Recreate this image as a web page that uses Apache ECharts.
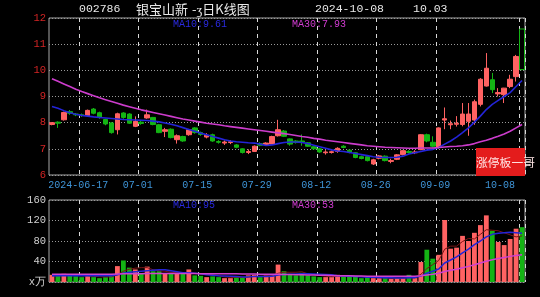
<!DOCTYPE html>
<html><head><meta charset="utf-8">
<script src="https://cdn.jsdelivr.net/npm/echarts@6/dist/echarts.min.js"></script>
<style>html,body{margin:0;padding:0;background:#000;}#c{width:540px;height:297px;}</style>
</head><body><div id="c"></div>
<script>
const dates = ['2024-06-07','2024-06-11','2024-06-12','2024-06-13','2024-06-14','2024-06-17','2024-06-18','2024-06-19','2024-06-20','2024-06-21',
'2024-06-24','2024-06-25','2024-06-26','2024-06-27','2024-06-28','2024-07-01','2024-07-02','2024-07-03','2024-07-04','2024-07-05',
'2024-07-08','2024-07-09','2024-07-10','2024-07-11','2024-07-12','2024-07-15','2024-07-16','2024-07-17','2024-07-18','2024-07-19',
'2024-07-22','2024-07-23','2024-07-24','2024-07-25','2024-07-26','2024-07-29','2024-07-30','2024-07-31','2024-08-01','2024-08-02',
'2024-08-05','2024-08-06','2024-08-07','2024-08-08','2024-08-09','2024-08-12','2024-08-13','2024-08-14','2024-08-15','2024-08-16',
'2024-08-19','2024-08-20','2024-08-21','2024-08-22','2024-08-23','2024-08-26','2024-08-27','2024-08-28','2024-08-29','2024-08-30',
'2024-09-02','2024-09-03','2024-09-04','2024-09-05','2024-09-06','2024-09-09','2024-09-10','2024-09-11','2024-09-12','2024-09-13',
'2024-09-18','2024-09-19','2024-09-20','2024-09-23','2024-09-24','2024-09-25','2024-09-26','2024-09-27','2024-09-30','2024-10-08'];

const openP = [7.93,8.02,8.11,8.42,8.33,8.30,8.27,8.52,8.38,8.12,
7.99,7.73,8.37,8.33,7.86,8.02,8.18,8.20,7.92,7.67,
7.75,7.35,7.47,7.54,7.80,7.62,7.45,7.54,7.28,7.22,
7.24,7.15,7.00,6.86,6.90,7.20,7.16,7.18,7.50,7.68,
7.38,7.30,7.30,7.23,7.08,7.00,6.85,6.86,6.90,7.10,
6.95,6.85,6.70,6.70,6.42,6.64,6.72,6.52,6.60,6.78,
6.90,6.85,6.97,7.54,7.25,7.05,8.10,7.92,7.94,7.93,
8.05,8.10,8.70,9.40,9.64,9.10,9.07,9.38,9.76,11.58];
const closeP = [8.00,7.98,8.39,8.36,8.30,8.28,8.47,8.36,8.20,7.95,
7.62,8.34,8.20,7.98,8.05,7.97,8.30,7.93,7.62,7.73,
7.43,7.50,7.30,7.73,7.62,7.55,7.52,7.30,7.25,7.26,
7.27,7.06,6.86,6.90,7.10,7.14,7.22,7.47,7.73,7.48,
7.18,7.24,7.25,7.10,7.00,6.88,6.88,6.89,7.02,7.05,
6.86,6.67,6.63,6.55,6.58,6.73,6.55,6.55,6.77,6.93,
6.86,6.88,7.54,7.30,7.10,7.80,8.15,7.96,7.98,8.33,
8.33,8.80,9.66,10.08,9.26,9.15,9.32,9.66,10.53,10.03];
const lowP = [7.90,7.80,8.08,8.30,8.25,8.22,8.25,8.32,8.15,7.90,
7.58,7.55,8.15,7.95,7.83,7.92,8.15,7.90,7.60,7.45,
7.40,7.20,7.27,7.50,7.58,7.50,7.40,7.27,7.20,7.15,
7.18,7.02,6.82,6.80,6.88,7.10,7.13,7.15,7.47,7.45,
7.12,7.20,7.12,7.08,6.97,6.85,6.78,6.82,6.85,7.02,
6.83,6.64,6.60,6.52,6.38,6.60,6.52,6.45,6.57,6.75,
6.82,6.80,6.95,7.25,7.05,7.00,7.75,7.75,7.85,7.86,
7.50,7.92,8.62,9.38,9.13,9.00,8.75,9.32,9.57,10.00];
const highP = [8.02,8.05,8.42,8.48,8.37,8.35,8.50,8.56,8.42,8.15,
8.02,8.38,8.40,8.36,8.24,8.08,8.50,8.22,7.95,7.80,
7.78,7.55,7.50,7.76,7.83,7.66,7.60,7.58,7.33,7.32,
7.33,7.18,7.02,6.98,7.13,7.25,7.25,7.50,8.11,7.72,
7.40,7.33,7.55,7.26,7.10,7.03,6.95,6.93,7.06,7.14,
6.98,6.87,6.74,6.73,6.62,6.76,6.75,6.62,6.80,6.96,
6.95,6.95,7.56,7.58,7.48,7.82,8.58,8.08,8.25,8.75,
8.75,8.88,9.70,10.66,9.90,9.32,9.33,9.83,10.59,11.58];

const ma10 = [8.62,8.55,8.46,8.38,8.32,8.28,8.25,8.22,8.20,8.18,
8.16,8.14,8.12,8.11,8.10,8.09,8.08,8.06,8.03,7.99,
7.94,7.88,7.81,7.74,7.67,7.60,7.54,7.47,7.41,7.35,
7.30,7.27,7.25,7.23,7.22,7.18,7.13,7.15,7.20,7.24,
7.26,7.26,7.24,7.20,7.14,7.08,7.02,6.96,6.92,6.90,
6.86,6.82,6.78,6.74,6.70,6.68,6.67,6.67,6.68,6.72,
6.80,6.85,6.90,6.95,6.98,7.05,7.18,7.30,7.45,7.62,
7.80,8.02,8.25,8.50,8.70,8.85,9.00,9.15,9.38,9.61];
const ma30 = [9.68,9.58,9.48,9.38,9.28,9.19,9.11,9.03,8.95,8.88,
8.81,8.74,8.67,8.61,8.55,8.49,8.44,8.39,8.34,8.29,
8.24,8.19,8.14,8.10,8.06,8.02,7.98,7.95,7.92,7.88,
7.85,7.82,7.79,7.76,7.73,7.70,7.67,7.64,7.61,7.58,
7.55,7.51,7.47,7.44,7.40,7.37,7.33,7.30,7.27,7.24,
7.21,7.18,7.15,7.12,7.10,7.08,7.06,7.05,7.04,7.03,
7.02,7.02,7.03,7.03,7.03,7.05,7.07,7.09,7.10,7.12,
7.15,7.20,7.27,7.33,7.40,7.48,7.57,7.67,7.80,7.93];

const volume = [14,13,16,13,11,9.5,13,9.5,7.5,9.5,
13,31,42,28,24.5,16,30,21,21,16,
16,16,16,24.5,13,12,9.5,11,9.5,7.5,
7.5,9.5,9.5,13,14,9.5,13,14,34,21,
14,13,18,13,11,9.5,9.5,9.5,14,11,
11,11,7.5,9.5,7.5,7.5,7.5,6.3,7.5,7.5,
14,7.5,39,63,45.5,53,121,65,67,90,
80,96,111,130,100,78,72,84,104,107];
const volMa5 = [12,12,13,13,13,12,12,11,10,10,
10,14,21,25,27,28,28,24,22,21,
19,18,17,18,17,16,15,14,12,10,
9,9,9,9.5,11,11,12,13,17,19,
19,19,20,16,14,13,11,10.5,11,11,
11,11,11,10,9,8.5,8,7.5,7.5,7.5,
8.5,8.5,15,26,34,42,64,70,70,79,
85,84,93,102,101,100,96,92,88,90];
const volMa10 = [12,12,12,12,12,12,12,12,12,12,
12,14,17,19,20,21,22,23,24,24,
22,20,18,18,17,16,14,13,12,11.5,
11,10.5,10,10,10.5,10.5,10.5,11,13.5,14.5,
15,15.5,16,16,15.5,15,14.5,14,12,11.5,
11,10.5,10,9.5,9.5,9,8.5,8.5,8,8,
8.5,8.5,11.5,17,21,25.5,37,43,49,57,
64,73,80,88,93,95,96,97,96,95];
const volMa30 = [15,15,15,15,15,15,15,15,15,15,
15,15.5,16,16,16,16,16.5,16.5,16.5,16.5,
16.5,16.5,16.5,16.5,16.5,16,16,16,16,16,
16,16,15.5,15.5,15.5,15,15,15,15,14.5,
14.5,14,14,13.5,13.5,13,13,12.5,12,12,
12,11.5,11.5,11,11,11,11,11,11,11,
11,11,12,13.5,15,17,20.5,23,25,28,
30.5,33.5,37,40.5,43.5,46,48,50,51.5,53];

const labelDates = ['2024-06-17','2024-07-01','2024-07-15','2024-07-29','2024-08-12','2024-08-26','2024-09-09','2024-10-08'];
const priceTicks = {min:6, max:12, step:1};
const volTicks = {min:0, max:160, step:40};

const UP = '#ff6262', DOWN = '#14b414';
const candleData = dates.map((d,i)=>{
  const v = [openP[i], closeP[i], lowP[i], highP[i]];
  if (i === dates.length-1) return {value:v, itemStyle:{color0:'#000000'}};
  return v;
});
const volData = volume.map((v,i)=>({value:v, itemStyle:{color: closeP[i] >= openP[i] ? UP : DOWN}}));
const isMark = (idx)=> labelDates.indexOf(dates[idx]) >= 0;
const mono = 'Liberation Mono';

const chart = echarts.init(document.getElementById('c'), null, {renderer:'canvas'});
const vline = {show:true, interval:(i)=>isMark(i), lineStyle:{color:'#d8d8d8', type:[4,4], width:1}};
const hline = {show:true, lineStyle:{color:'#9a9a9a', type:[1,2], width:1}};
chart.setOption({
  backgroundColor:'#000',
  animation:false,
  grid:[
    {left:49, top:18, width:476, height:157, show:true, borderColor:'#a8a8a8', borderWidth:1},
    {left:49, top:200, width:476, height:82, show:true, borderColor:'#a8a8a8', borderWidth:1}
  ],
  xAxis:[
    {type:'category', gridIndex:0, data:dates, boundaryGap:true,
     axisLine:{show:false}, axisTick:{show:false},
     axisLabel:{interval:(i)=>isMark(i), color:'#3f95d8', fontFamily:mono, fontSize:10, margin:5,
       padding:[0,7,0,0], alignMaxLabel:'right',
       formatter:(v,i)=> v===labelDates[0] ? v : v.slice(5)},
     splitLine:vline},
    {type:'category', gridIndex:1, data:dates, boundaryGap:true,
     axisLine:{show:false}, axisTick:{show:false}, axisLabel:{show:false}, splitLine:vline}
  ],
  yAxis:[
    {type:'value', gridIndex:0, min:priceTicks.min, max:priceTicks.max, interval:priceTicks.step,
     axisLine:{show:false}, axisTick:{show:false},
     axisLabel:{color:'#d42424', fontFamily:mono, fontSize:10.5, margin:3}, splitLine:hline},
    {type:'value', gridIndex:1, min:volTicks.min, max:volTicks.max, interval:volTicks.step,
     axisLine:{show:false}, axisTick:{show:false},
     axisLabel:{color:'#d0d0d0', fontFamily:mono, fontSize:10.5, margin:3,
       formatter:(v)=> v===0 ? 'x万' : String(v)}, splitLine:hline}
  ],
  series:[
    {type:'candlestick', xAxisIndex:0, yAxisIndex:0, data:candleData, barWidth:5,
     itemStyle:{color:UP, color0:DOWN, borderColor:UP, borderColor0:DOWN, borderWidth:1}},
    {type:'line', xAxisIndex:0, yAxisIndex:0, data:ma10, symbol:'none', z:5,
     lineStyle:{color:'#2424d8', width:1.6}},
    {type:'line', xAxisIndex:0, yAxisIndex:0, data:ma30, symbol:'none', z:5,
     lineStyle:{color:'#cc3ccc', width:1.6}},
    {type:'bar', xAxisIndex:1, yAxisIndex:1, data:volData, barWidth:4.8},
    {type:'line', xAxisIndex:1, yAxisIndex:1, data:volMa5, symbol:'none', z:5,
     lineStyle:{color:'#7a1414', width:1}},
    {type:'line', xAxisIndex:1, yAxisIndex:1, data:volMa10, symbol:'none', z:5,
     lineStyle:{color:'#2424d8', width:1.5}},
    {type:'line', xAxisIndex:1, yAxisIndex:1, data:volMa30, symbol:'none', z:5,
     lineStyle:{color:'#d040d0', width:1.5}}
  ],
  graphic:[
    {type:'text', x:79, y:9, style:{text:'002786', fill:'#e8e8e8', font:'11.5px "Liberation Mono"', verticalAlign:'middle'}},
    {type:'text', x:136, y:9, style:{text:'银宝山新', fill:'#e8e8e8', font:'13px "Noto Sans CJK SC"', verticalAlign:'middle'}},
    {type:'text', x:192, y:9, style:{text:'-ʒ日K线图', fill:'#e8e8e8', font:'13px "Noto Sans CJK SC"', verticalAlign:'middle'}},
    {type:'text', x:315, y:9, style:{text:'2024-10-08', fill:'#e8e8e8', font:'11.5px "Liberation Mono"', verticalAlign:'middle'}},
    {type:'text', x:413, y:9, style:{text:'10.03', fill:'#e8e8e8', font:'11.5px "Liberation Mono"', verticalAlign:'middle'}},
    {type:'text', x:173, y:24, z:10, style:{text:'MA10:9.61', fill:'#2a2ae0', font:'10px "Liberation Mono"', verticalAlign:'middle'}},
    {type:'text', x:292, y:24, z:10, style:{text:'MA30:7.93', fill:'#d23cd2', font:'10px "Liberation Mono"', verticalAlign:'middle'}},
    {type:'text', x:173, y:205, z:10, style:{text:'MA10:95', fill:'#2a2ae0', font:'10px "Liberation Mono"', verticalAlign:'middle'}},
    {type:'text', x:292, y:205, z:10, style:{text:'MA30:53', fill:'#d23cd2', font:'10px "Liberation Mono"', verticalAlign:'middle'}},
    {type:'rect', shape:{x:476, y:148, width:49, height:28}, z:10, style:{fill:'#e41c1c'}},
    {type:'text', x:476, y:163, z:11, style:{text:'涨停板一哥', fill:'#ffe6e6', font:'11.8px "Noto Sans CJK SC"', verticalAlign:'middle'}}
  ]
});
</script></body></html>
